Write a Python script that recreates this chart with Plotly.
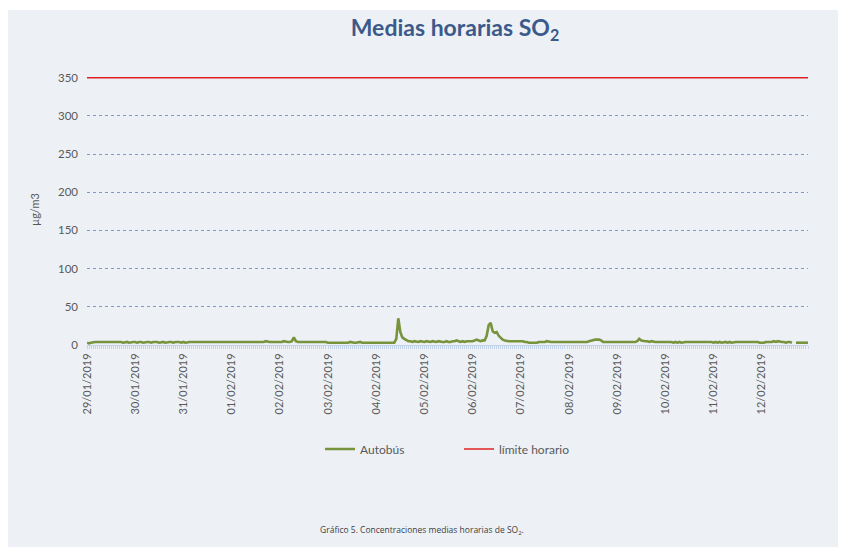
import pandas as pd
import plotly.graph_objects as go

# ---- data (hourly SO2, µg/m3) ----
d_2901 = [3, 2, 3, 4, 4, 4, 4, 4, 4, 4, 4, 4, 4, 4, 4, 4, 4, 4, 3, 4, 4, 3, 4, 4]
d_3001 = [4, 3, 4, 4, 3, 4, 4, 4, 3, 4, 4, 4, 3, 4, 4, 3, 4, 4, 4, 3, 4, 4, 4, 3]
d_3101 = [4, 3, 4, 4, 4, 4, 4, 4, 4, 4, 4, 4, 4, 4, 4, 4, 4, 4, 4, 4, 4, 4, 4, 4]
d_0102 = [4, 4, 4, 4, 4, 4, 4, 4, 4, 4, 4, 4, 4, 4, 4, 4, 4, 5, 4, 4, 4, 4, 4, 4]
d_0202 = [4, 4, 5, 4, 4, 4, 5, 10, 5, 4, 4, 4, 4, 4, 4, 4, 4, 4, 4, 4, 4, 4, 4, 4]
d_0302 = [3, 3, 3, 3, 3, 3, 3, 3, 3, 3, 3, 4, 3, 3, 3, 4, 4, 3, 3, 3, 3, 3, 3, 3]
d_0402 = [3, 3, 3, 3, 3, 3, 3, 3, 3, 3, 8, 35, 17, 10, 8, 6, 5, 5, 4, 5, 4, 4, 5, 4]
d_0502 = [4, 5, 4, 4, 5, 4, 4, 5, 4, 4, 4, 5, 4, 4, 5, 5, 6, 5, 4, 5, 4, 5, 5, 5]
d_0602 = [5, 6, 7, 6, 5, 6, 6, 12, 26, 29, 18, 16, 17, 12, 9, 7, 6, 5, 5, 5, 5, 5, 5, 5]
d_0702 = [5, 5, 4, 4, 3, 3, 3, 3, 3, 4, 4, 4, 4, 5, 4, 4, 4, 4, 4, 4, 4, 4, 4, 4]
d_0802 = [4, 4, 4, 4, 4, 4, 4, 4, 4, 4, 5, 6, 7, 7, 7, 7, 6, 4, 4, 4, 4, 4, 4, 4]
d_0902 = [4, 4, 4, 4, 4, 4, 4, 4, 4, 4, 5, 8, 6, 5, 5, 5, 4, 5, 4, 4, 4, 4, 4, 4]
d_1002 = [4, 4, 4, 4, 3, 4, 3, 4, 3, 4, 4, 4, 4, 4, 4, 4, 4, 4, 4, 4, 4, 4, 4, 4]
d_1102 = [3, 4, 3, 4, 3, 4, 4, 3, 4, 3, 4, 4, 4, 4, 4, 4, 4, 4, 4, 4, 4, 4, 4, 3]
d_1202 = [3, 3, 4, 4, 4, 4, 5, 4, 5, 4, 4, 4, 3, 4, 4, 3, None, 3, 3, 3, 3, 3, 3, 3]

autobus = (d_2901 + d_3001 + d_3101 + d_0102 + d_0202 + d_0302 + d_0402 + d_0502
           + d_0602 + d_0702 + d_0802 + d_0902 + d_1002 + d_1102 + d_1202)
limite_horario_valor = 350
limite = [limite_horario_valor] * len(autobus)
horas = pd.date_range("2019-01-29 00:00", periods=len(autobus), freq="h")

y_ticks = [0, 50, 100, 150, 200, 250, 300, 350]

PANEL = "#edf1f6"
GRAY = "#595959"
FONT = "Lato"

fig = go.Figure()
fig.add_trace(go.Scatter(x=horas, y=autobus, mode="lines", name="Autobús",
                         line=dict(color="#77933c", width=2.6), connectgaps=False))
fig.add_trace(go.Scatter(x=horas, y=limite, mode="lines", name="límite horario",
                         line=dict(color="#e02020", width=1.5)))

W, H = 844, 547
L, R, T, B = 87, 36, 70, 202
pw, ph = W - L - R, H - T - B

def px_x(x):
    return (x - L) / pw

def px_y(y):
    return (H - B - y) / ph

fig.update_layout(
    width=W, height=H,
    margin=dict(l=L, r=R, t=T, b=B),
    paper_bgcolor="white",
    plot_bgcolor="rgba(0,0,0,0)",
    font=dict(family=FONT, color=GRAY, size=11),
    showlegend=True,
    legend=dict(orientation="h", x=px_x(320), xanchor="left", y=px_y(449), yanchor="middle",
                font=dict(size=12, color=GRAY, family=FONT), entrywidth=94, entrywidthmode="pixels",
                bgcolor="rgba(0,0,0,0)", itemwidth=30),
    title=dict(text="<b>Medias horarias SO<sub>2</sub></b>", x=px_x(455), xref="paper", xanchor="center",
               y=1 - 28 / H, yref="container", yanchor="middle",
               font=dict(family=FONT, size=23, color="#3b5a8a")),
    shapes=[dict(type="rect", xref="paper", yref="paper", x0=px_x(8), x1=px_x(838),
                 y0=px_y(547), y1=px_y(10), fillcolor=PANEL, line=dict(width=0), layer="below")],
    annotations=[
        dict(text="µg/m3", x=px_x(35), y=px_y(210), xref="paper", yref="paper", textangle=-90,
             showarrow=False, font=dict(size=11, color=GRAY, family=FONT), xanchor="center", yanchor="middle"),
        dict(text="Gráfico 5. Concentraciones medias horarias de SO<sub>2</sub>.", x=px_x(422), y=px_y(530),
             xref="paper", yref="paper", showarrow=False, xanchor="center", yanchor="middle",
             font=dict(size=8.5, color="#404040", family="Open Sans")),
    ],
)

fig.update_xaxes(
    type="date", range=[horas[0], horas[-1]],
    tickformat="%d/%m/%Y", tick0="2019-01-29", dtick=86400000, tickangle=-90,
    ticks="outside", ticklen=3, tickcolor="#c3d3ea", showgrid=False,
    showline=True, linecolor="#c3d3ea", linewidth=1,
    minor=dict(dtick=3600000, ticks="outside", ticklen=3, tickcolor="#c3d3ea", showgrid=False),
    tickfont=dict(size=11, color=GRAY, family=FONT),
)
fig.update_yaxes(
    range=[0, 360], tickvals=y_ticks, showgrid=True, gridcolor="#7f98c6", griddash="3px,3px",
    gridwidth=1, zeroline=False, showline=False, ticks="", ticklabelstandoff=8,
    tickfont=dict(size=11.5, color=GRAY, family=FONT),
)

fig.write_html("out.html", config={"displayModeBar": False},
               post_script="document.body.style.margin='0';document.body.style.overflow='hidden';")
